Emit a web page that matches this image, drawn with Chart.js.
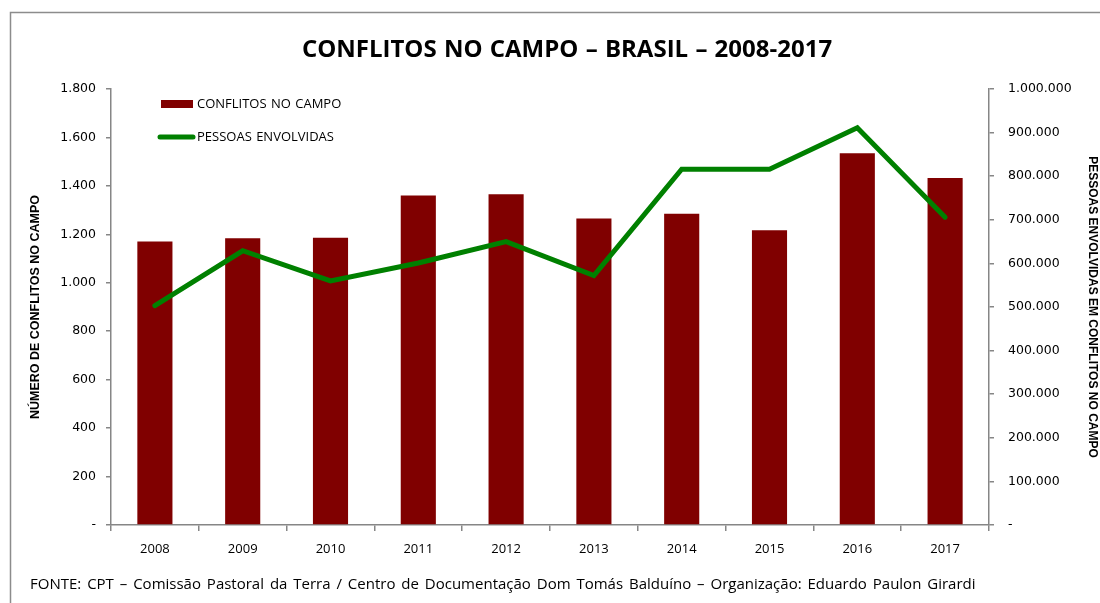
<!DOCTYPE html>
<html lang="pt-BR">
<head>
<meta charset="utf-8">
<title>Conflitos no campo - Brasil - 2008-2017</title>
<script src="https://cdn.jsdelivr.net/npm/chart.js@4/dist/chart.umd.min.js"></script>
<style>
  html, body { margin: 0; padding: 0; background: #fff; }
</style>
</head>
<body>
<canvas id="grafico" width="1100" height="603"></canvas>
<script>
// dados
const anos = ["2008", "2009", "2010", "2011", "2012", "2013", "2014", "2015", "2016", "2017"];
const conflitos = [1170, 1184, 1186, 1360, 1365, 1265, 1285, 1217, 1535, 1433];
const pessoas = [503000, 629000, 560000, 601000, 650000, 572000, 816000, 816000, 911000, 706000];

const titulo = "CONFLITOS NO CAMPO – BRASIL – 2008-2017";
const tituloEsq = "NÚMERO DE CONFLITOS NO CAMPO";
const tituloDir = "PESSOAS ENVOLVIDAS EM CONFLITOS NO CAMPO";
const fonte = "FONTE: CPT – Comissão Pastoral da Terra / Centro de Documentação Dom Tomás Balduíno – Organização: Eduardo Paulon Girardi";

const corBarra = "#800000";
const corLinha = "#008000";
const corEixo = "#868686";

// separador de milhar com ponto, zero vira traço
function fmt(v) {
    if (v === 0) return "-";
    return String(v).replace(/\B(?=(\d{3})+(?!\d))/g, ".");
}

// moldura, título, legenda e fonte
const extras = {
    id: "extras",
    beforeDraw(chart) {
        const ctx = chart.ctx;
        ctx.save();
        ctx.fillStyle = "#fff";
        ctx.fillRect(0, 0, chart.width, chart.height);
        ctx.strokeStyle = "#8c8c8c";
        ctx.lineWidth = 1.5;
        ctx.strokeRect(10.5, 12.5, 1200, 700);
        ctx.restore();
    },
    afterDraw(chart) {
        const ctx = chart.ctx;
        const ds = chart.data.datasets;
        ctx.save();
        ctx.fillStyle = "#000";
        ctx.textBaseline = "middle";

        ctx.font = 'bold 24px "Open Sans"';
        ctx.textAlign = "center";
        ctx.wordSpacing = "1px";
        ctx.fillText(titulo, 567, 50);

        // legenda
        ctx.textAlign = "left";
        ctx.font = '13px "Open Sans"';
        ctx.wordSpacing = "1px";
        ctx.fillStyle = ds[0].backgroundColor;
        ctx.fillRect(161, 100, 32, 8);
        ctx.fillStyle = "#000";
        ctx.fillText(ds[0].label, 197, 104);

        ctx.strokeStyle = ds[1].borderColor;
        ctx.lineWidth = 5;
        ctx.lineCap = "round";
        ctx.beginPath();
        ctx.moveTo(160, 137);
        ctx.lineTo(193, 137);
        ctx.stroke();
        ctx.fillText(ds[1].label, 197, 137);

        ctx.font = '15px "Open Sans"';
        ctx.wordSpacing = "2px";
        ctx.fillText(fonte, 30, 585);
        ctx.restore();
    }
};

new Chart(document.getElementById("grafico"), {
    data: {
        labels: anos,
        datasets: [
            {
                type: "bar",
                label: "CONFLITOS NO CAMPO",
                data: conflitos,
                backgroundColor: corBarra,
                barPercentage: 0.4,
                categoryPercentage: 1,
                yAxisID: "y",
                order: 2
            },
            {
                type: "line",
                label: "PESSOAS ENVOLVIDAS",
                data: pessoas,
                borderColor: corLinha,
                backgroundColor: corLinha,
                borderWidth: 5,
                pointRadius: 0,
                tension: 0,
                borderCapStyle: "round",
                borderJoinStyle: "miter",
                yAxisID: "y1",
                order: 1
            }
        ]
    },
    options: {
        responsive: false,
        animation: false,
        devicePixelRatio: 1,
        layout: { padding: { top: 89, left: 0, right: 0, bottom: 0 } },
        plugins: {
            legend: { display: false },
            title: { display: false },
            tooltip: { enabled: false }
        },
        scales: {
            x: {
                offset: true,
                grid: { offset: true, drawOnChartArea: false, tickLength: 6, color: corEixo, lineWidth: 1.5 },
                border: { color: corEixo, width: 1.5 },
                ticks: { color: "#000", font: { family: "Open Sans", size: 13 }, padding: 10, maxRotation: 0 },
                afterFit(scale) { scale.height = 78; }
            },
            y: {
                position: "left",
                min: 0,
                max: 1800,
                grid: { drawOnChartArea: false, tickLength: 5, color: corEixo, lineWidth: 1.5 },
                border: { color: corEixo, width: 1.5 },
                ticks: {
                    stepSize: 200,
                    color: "#000",
                    font: { family: "DejaVu Sans", size: 12.5 },
                    padding: 10,
                    callback: (v) => fmt(v)
                },
                title: {
                    display: true,
                    text: tituloEsq,
                    color: "#000",
                    font: { family: "Liberation Sans", size: 12.5, weight: "bold" },
                    padding: { top: 28, bottom: 0 }
                },
                afterFit(scale) { scale.width = 111; }
            },
            y1: {
                position: "right",
                min: 0,
                max: 1000000,
                grid: { drawOnChartArea: false, tickLength: 5, color: corEixo, lineWidth: 1.5 },
                border: { color: corEixo, width: 1.5 },
                ticks: {
                    stepSize: 100000,
                    color: "#000",
                    font: { family: "DejaVu Sans", size: 12.5 },
                    padding: 14,
                    callback: (v) => fmt(v)
                },
                title: {
                    display: true,
                    text: tituloDir,
                    color: "#000",
                    font: { family: "Liberation Sans", size: 12, weight: "bold" },
                    padding: { top: 0, bottom: 0 }
                },
                afterFit(scale) { scale.width = 111; }
            }
        }
    },
    plugins: [extras]
});
</script>
</body>
</html>
